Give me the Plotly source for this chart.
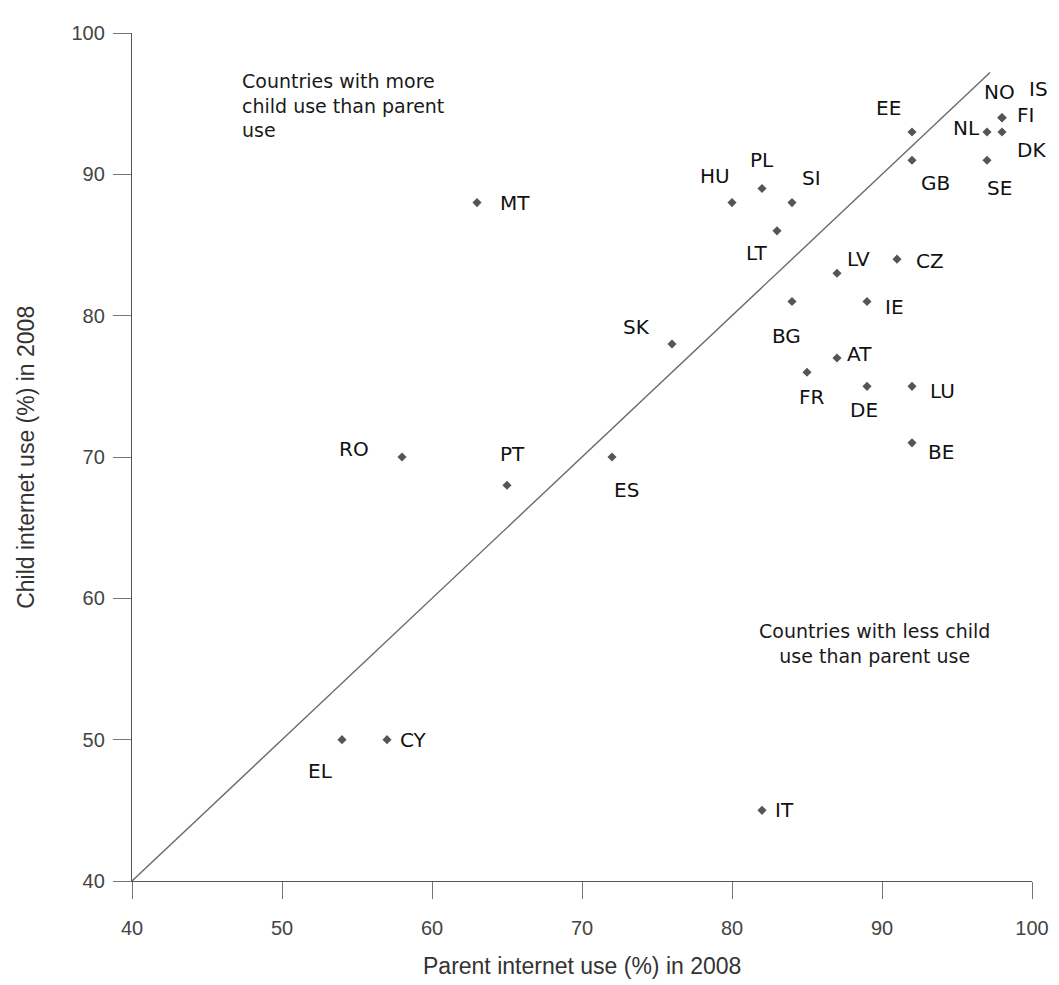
import plotly.graph_objects as go

countries = ["MT", "HU", "PL", "SI", "LT", "EE", "GB", "NL", "NO", "IS", "FI", "DK", "SE",
             "LV", "CZ", "BG", "IE", "SK", "AT", "FR", "DE", "LU", "BE",
             "RO", "PT", "ES", "EL", "CY", "IT"]
parent_use = [63, 80, 82, 84, 83, 92, 92, 97, 98, 98, 98, 98, 97,
              87, 91, 84, 89, 76, 87, 85, 89, 92, 92,
              58, 65, 72, 54, 57, 82]
child_use = [88, 88, 89, 88, 86, 93, 91, 93, 94, 94, 94, 93, 91,
             83, 84, 81, 81, 78, 77, 76, 75, 75, 71,
             70, 68, 70, 50, 50, 45]

# label offsets in pixels (dx right, dy down)
label_offsets = {
    "MT": (38, 0), "HU": (-17, -27), "PL": (0, -28), "SI": (19, -25), "LT": (-21, 22),
    "EE": (-24, -24), "GB": (23, 23), "NL": (-21, -4), "NO": (-3, -26), "IS": (36, -29),
    "FI": (23, -3), "DK": (29, 18), "SE": (12, 28), "LV": (21, -14), "CZ": (33, 2),
    "BG": (-6, 34), "IE": (27, 5), "SK": (-36, -17), "AT": (22, -4), "FR": (5, 25),
    "DE": (-3, 24), "LU": (30, 5), "BE": (29, 9), "RO": (-48, -8), "PT": (5, -31),
    "ES": (14, 33), "EL": (-22, 31), "CY": (26, 0), "IT": (22, 0),
}

diag = [40, 97.2]

FONT = "Liberation Sans, Arial, sans-serif"
LFONT = "DejaVu Sans, sans-serif"

fig = go.Figure()
fig.add_trace(go.Scatter(x=diag, y=diag, mode="lines",
                         line=dict(color="#6a6a6a", width=1.4), hoverinfo="skip"))
fig.add_trace(go.Scatter(x=parent_use, y=child_use, mode="markers", text=countries,
                         marker=dict(symbol="diamond", size=7, color="#555555")))

annotations = []
for c, xv, yv in zip(countries, parent_use, child_use):
    dx, dy = label_offsets[c]
    annotations.append(dict(x=xv, y=yv, text=c, showarrow=False, xshift=dx, yshift=-dy,
                            font=dict(family=LFONT, size=20, color="#111111")))

annotations.append(dict(x=47.2, y=97.5, xanchor="left", yanchor="top", align="left",
                        text="Countries with more<br>child use than parent<br>use",
                        showarrow=False, font=dict(family=LFONT, size=19, color="#1a1a1a")))
annotations.append(dict(x=89.5, y=58.6, xanchor="center", yanchor="top", align="center",
                        text="Countries with less child<br>use than parent use",
                        showarrow=False, font=dict(family=LFONT, size=19, color="#1a1a1a")))

# axis titles as annotations (paper coords) for placement
annotations.append(dict(xref="paper", yref="paper", x=0.5, y=-0.1, xanchor="center",
                        yanchor="middle", text="Parent internet use (%) in 2008", showarrow=False,
                        font=dict(family=FONT, size=23, color="#333333")))
annotations.append(dict(xref="paper", yref="paper", x=-0.118, y=0.5, xanchor="center",
                        yanchor="middle", textangle=-90, text="Child internet use (%) in 2008",
                        showarrow=False, font=dict(family=FONT, size=23, color="#333333")))

fig.update_layout(
    width=1059, height=985,
    margin=dict(l=124, r=35, t=25, b=112),
    paper_bgcolor="white", plot_bgcolor="white",
    showlegend=False,
    annotations=annotations,
    font=dict(family=FONT),
)
fig.update_xaxes(range=[40, 100], tickvals=[40, 50, 60, 70, 80, 90, 100],
                 showgrid=False, zeroline=False, showline=True, linecolor="#555555", linewidth=1.4,
                 ticks="outside", ticklen=17, tickcolor="#777777", tickwidth=1.3,
                 ticklabelstandoff=12,
                 tickfont=dict(family=FONT, size=20, color="#444444"))
fig.update_yaxes(range=[40, 100], tickvals=[40, 50, 60, 70, 80, 90, 100],
                 showgrid=False, zeroline=False, showline=True, linecolor="#555555", linewidth=1.4,
                 ticks="outside", ticklen=18, tickcolor="#777777", tickwidth=1.3,
                 ticklabelstandoff=4,
                 tickfont=dict(family=FONT, size=20, color="#444444"))

fig.write_html("out.html")
